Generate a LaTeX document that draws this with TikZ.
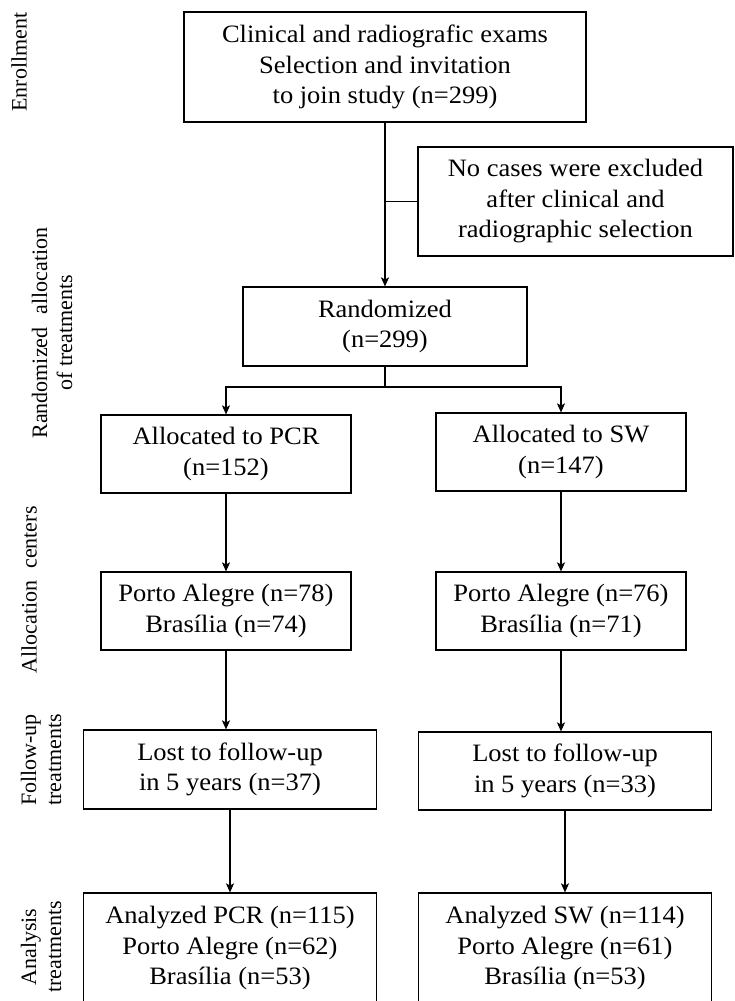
\documentclass[tikz,border=0pt]{standalone}
\usepackage{fontspec}
\setmainfont{Liberation Serif}
\newfontfamily\boxfont[FakeStretch=1.06]{Liberation Serif}
\usetikzlibrary{arrows.meta}
\begin{document}
\begin{tikzpicture}[x=1pt,y=-1pt,
  box/.style={draw, line width=1.2pt, align=center, inner sep=0pt, font=\boxfont\fontsize{25}{30.5}\selectfont},
  side/.style={rotate=90, align=center, inner sep=0pt, font=\fontsize{22}{25}\selectfont},
  conn/.style={line width=1.1pt},
  arr/.style={conn, -{Stealth[length=9pt,width=8pt,inset=2pt]}}]
\useasboundingbox (0,0) rectangle (735,1001);
\clip (0,0) rectangle (735,1001);
% boxes
\node[box, minimum width=402pt, minimum height=110pt] (top) at (385,67)
  {Clinical and radiografic exams\\Selection and invitation\\to join study (n=299)};
\node[box, minimum width=315pt, minimum height=109pt] (excl) at (575.5,201.5)
  {No cases were excluded\\after clinical and\\radiographic selection};
\node[box, minimum width=284pt, minimum height=79pt] (rand) at (385,326.5)
  {Randomized\\(n=299)};
\node[box, minimum width=250pt, minimum height=78pt] (pcr) at (226,454)
  {Allocated to PCR\\(n=152)};
\node[box, minimum width=250pt, minimum height=78pt] (sw) at (561,452)
  {Allocated to SW\\(n=147)};
\node[box, minimum width=250pt, minimum height=78pt] (pa1) at (226,611)
  {Porto Alegre (n=78)\\Brasília (n=74)};
\node[box, minimum width=250pt, minimum height=78pt] (pa2) at (561,611)
  {Porto Alegre (n=76)\\Brasília (n=71)};
\node[box, minimum width=293pt, minimum height=79pt] (lost1) at (230,769.5)
  {Lost to follow-up\\in 5 years (n=37)};
\node[box, minimum width=293pt, minimum height=78pt] (lost2) at (565,771)
  {Lost to follow-up\\in 5 years (n=33)};
\node[box, minimum width=293pt, minimum height=110pt] (an1) at (230,948)
  {Analyzed PCR (n=115)\\Porto Alegre (n=62)\\Brasília (n=53)};
\node[box, minimum width=293pt, minimum height=110pt] (an2) at (565,948)
  {Analyzed SW (n=114)\\Porto Alegre (n=61)\\Brasília (n=53)};
% side labels
\node[side] (l1) at (19,62) {Enrollment};
\node[side] (l2) at (52,333) {Randomized\hspace{0.35em} allocation\\of treatments};
\node[side] (l3) at (29,590) {Allocation\hspace{0.3em} centers};
\node[side] (l4) at (41,760) {Follow-up\\treatments};
\node[side] (l5) at (41,947) {Analysis\\treatments};
% connectors
\draw[arr] (top.south) -- (rand.north);
\draw[conn] (excl.west) -- (excl.west -| top.south);
\coordinate (br) at (385,387);
\draw[conn] (rand.south) -- (br);
\draw[arr] (br) -| (pcr.north);
\draw[arr] (br) -| (sw.north);
\draw[arr] (pcr.south) -- (pa1.north);
\draw[arr] (sw.south) -- (pa2.north);
\draw[arr] (pa1.south) -- (pa1.south |- lost1.north);
\draw[arr] (pa2.south) -- (pa2.south |- lost2.north);
\draw[arr] (lost1.south) -- (an1.north);
\draw[arr] (lost2.south) -- (an2.north);
\end{tikzpicture}
\end{document}
